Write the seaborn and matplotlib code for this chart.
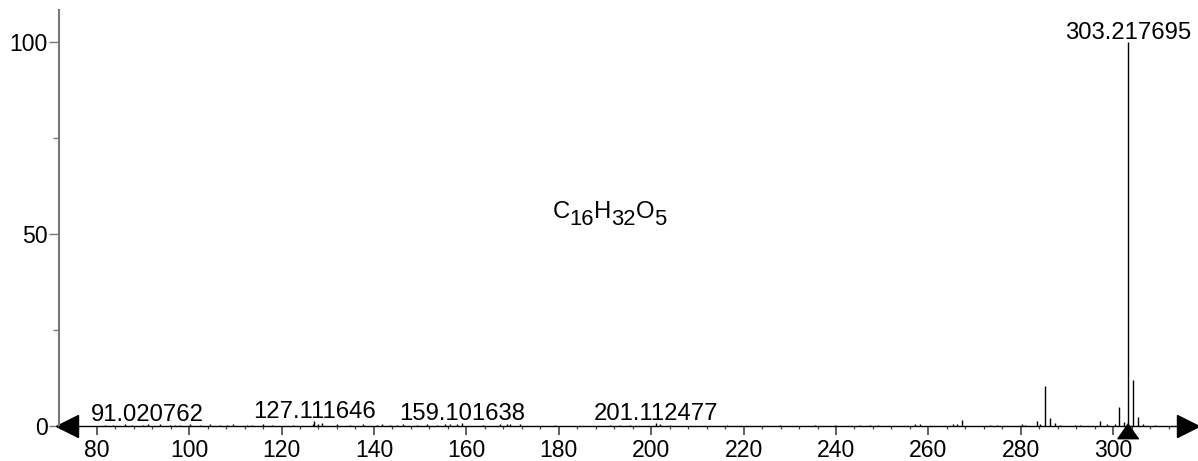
import numpy as np
import pandas as pd
import seaborn as sns
import matplotlib
matplotlib.use("Agg")
import matplotlib.pyplot as plt
import matplotlib.transforms as mtrans

# m/z and relative intensity
mz = [81.8, 83.5, 86.1, 87.6, 90.0, 91.02, 93.7, 95.9, 96.9, 98.0, 100.2, 102.4,
      104.5, 106.7, 108.2, 109.5, 112.5, 113.6, 116.0, 117.9, 122.5, 126.8,
      127.11, 127.9, 128.8, 132.0, 134.8, 137.6, 140.7, 141.8, 143.5, 145.0,
      146.3, 149.3, 151.5, 153.7, 155.4, 156.5, 158.0, 159.10, 163.6, 167.3,
      168.8, 169.5, 171.6, 179.2, 191.1, 193.3, 195.4, 201.11, 201.9, 204.1,
      216.4, 227.9, 235.5, 239.8, 245.2, 247.4, 249.1, 257.1, 258.2, 265.3,
      266.2, 267.3, 273.3, 274.8, 280.3, 280.9, 283.5, 284.1, 285.2, 286.3,
      287.4, 288.5, 291.7, 292.8, 297.1, 298.6, 300.3, 301.3, 302.4, 303.217695,
      304.3, 305.4, 306.5, 309.1]
intensity = [0.3, 0.2, 0.4, 0.3, 0.3, 0.5, 0.4, 0.3, 0.2, 0.3, 0.4, 0.3,
             0.4, 0.3, 0.3, 0.4, 0.3, 0.3, 0.4, 0.3, 0.3, 0.5,
             1.2, 0.6, 0.8, 0.4, 0.3, 0.4, 0.3, 0.4, 0.3, 0.3,
             0.4, 0.3, 0.4, 0.3, 0.4, 0.5, 0.6, 0.8, 0.3, 0.4,
             0.6, 0.4, 0.5, 0.3, 0.3, 0.3, 0.3, 0.8, 0.4, 0.3,
             0.3, 0.3, 0.3, 0.3, 0.3, 0.3, 0.3, 0.5, 0.4, 0.4,
             0.5, 1.5, 0.3, 0.3, 0.4, 0.3, 1.3, 0.5, 10.5, 2.0,
             0.8, 0.3, 0.3, 0.3, 1.2, 0.5, 0.4, 5.0, 1.0, 100.0,
             12.0, 2.4, 0.4, 0.2]

label_mz = [91.020762, 127.111646, 159.101638, 201.112477, 303.217695]
label_int = [0.5, 1.2, 0.8, 0.8, 100.0]
precursor = 303.217695
# formula pieces: (text, is_subscript)
formula = [("C", False), ("16", True), ("H", False), ("32", True), ("O", False), ("5", True)]

df = pd.DataFrame({"mz": mz, "intensity": intensity})

sns.set_theme(style="ticks")
plt.rcParams["font.family"] = ["Liberation Sans", "DejaVu Sans"]

fig = plt.figure(figsize=(11.98, 4.61), dpi=100)
ax = fig.add_axes([59 / 1198, 35 / 461, 1136 / 1198, 416 / 461])

ax.vlines(df["mz"], 0, df["intensity"], color="black", linewidth=1.0)

ax.set_xlim(71.84, 317.7)
ax.set_ylim(0, 108.3)
ax.set_xticks(np.arange(80, 301, 20))
ax.set_xticks(np.arange(72, 317, 4), minor=True)
ax.set_yticks([0, 50, 100])
ax.set_yticks([25, 75], minor=True)
ax.set_xlabel("")
ax.set_ylabel("")

for s in ["top", "right"]:
    ax.spines[s].set_visible(False)
ax.spines["left"].set_color("#777777")
ax.spines["left"].set_linewidth(1.5)
ax.spines["bottom"].set_color("black")
ax.spines["bottom"].set_linewidth(1.0)

ax.tick_params(axis="x", which="major", length=6.5, width=1.2, color="#444444",
               labelsize=16.6, pad=2.5, labelcolor="black")
ax.tick_params(axis="x", which="minor", length=2.5, width=0.9, color="#444444")
ax.tick_params(axis="y", which="major", length=7.5, width=1.0, color="#777777",
               labelsize=16.6, pad=0.5, labelcolor="black")
ax.tick_params(axis="y", which="minor", length=4.3, width=1.0, color="#777777")

# axis arrows
xl = ax.get_xlim()
ax.plot([xl[0]], [0], marker="<", markersize=16, color="black", clip_on=False,
        transform=mtrans.offset_copy(ax.transData, fig=fig, x=8.5, y=0, units="dots"))
ax.plot([xl[1]], [0], marker=">", markersize=16, color="black", clip_on=False,
        transform=mtrans.offset_copy(ax.transData, fig=fig, x=-6.5, y=0, units="dots"))

# precursor marker
tri = [(0, 0.15), (-0.8, -1), (0.8, -1)]
ax.plot([precursor], [0], marker=tri, markersize=19, color="black", clip_on=False,
        linestyle="none",
        transform=mtrans.offset_copy(ax.transData, fig=fig, x=0, y=1, units="dots"))

for m, h in zip(label_mz, label_int):
    ax.annotate(f"{m:.6f}", (m, h), xytext=(0, 3), textcoords="offset pixels",
                ha="center", va="baseline", fontsize=17.2, color="black")

# molecular formula, built piece by piece so subscripts stay large
prev = ax.text(178.6, 52.8, formula[0][0], ha="left", va="bottom",
               fontsize=17.2, color="black")
prev_sub = False
for txt, sub in formula[1:]:
    dy = -7 if sub and not prev_sub else (7 if prev_sub and not sub else 0)
    prev = ax.annotate(txt, xy=(1, 0), xycoords=prev, xytext=(0, dy),
                       textcoords="offset pixels", ha="left", va="bottom",
                       fontsize=15.8 if sub else 17.2, color="black")
    prev_sub = sub

fig.savefig("out.png", dpi=100)
